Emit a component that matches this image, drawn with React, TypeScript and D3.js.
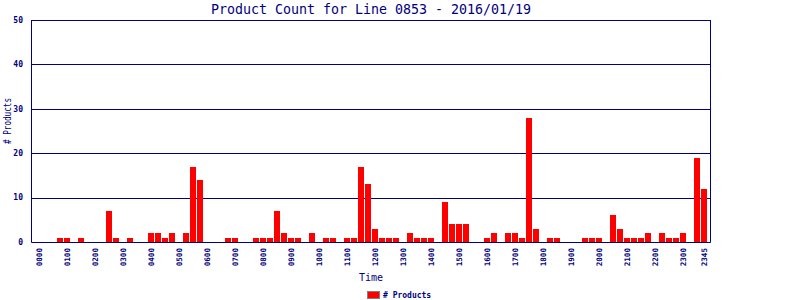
import React from "react";
import * as d3 from "d3";

const title = "Product Count for Line 0853 - 2016/01/19";
const yTicks = [0, 10, 20, 30, 40, 50];
const hourLabels = [
  "0000","0100","0200","0300","0400","0500","0600","0700","0800","0900","1000","1100",
  "1200","1300","1400","1500","1600","1700","1800","1900","2000","2100","2200","2300",
];
const lastLabel = "2345";
const slots = d3.range(96).map((i) => {
  const h = Math.floor(i / 4);
  const m = (i % 4) * 15;
  return `${String(h).padStart(2, "0")}${String(m).padStart(2, "0")}`;
});
const counts = [
  0, 0, 0, 1, 1, 0, 1, 0, 0, 0, 7, 1, 0, 1, 0, 0, 2, 2, 1, 2, 0, 2, 17, 14,
  0, 0, 0, 1, 1, 0, 0, 1, 1, 1, 7, 2, 1, 1, 0, 2, 0, 1, 1, 0, 1, 1, 17, 13,
  3, 1, 1, 1, 0, 2, 1, 1, 1, 0, 9, 4, 4, 4, 0, 0, 1, 2, 0, 2, 2, 1, 28, 3,
  0, 1, 1, 0, 0, 0, 1, 1, 1, 0, 6, 3, 1, 1, 1, 2, 0, 2, 1, 1, 2, 0, 19, 12,
];
const seriesName = "# Products";

const NAVY = "#000080";
const MONO = "'DejaVu Sans Mono', 'Liberation Mono', monospace";

export default function App() {
  const W = 800, H = 300;
  const left = 31.5, right = 710.5, top = 20, bottom = 242;
  const x = d3.scaleBand<string>().domain(slots).range([36, 708]).padding(0);
  const y = d3.scaleLinear().domain([0, 50]).range([bottom, top]);
  const bw = x.bandwidth() - 1;
  const xLabels = [...hourLabels, lastLabel];
  const labelSlot = (lab: string) => (lab === lastLabel ? slots[95] : lab);

  return (
    <svg width={W} height={H} style={{ position: "absolute", left: 0, top: 0, background: "#fff" }}>
      <rect x={0} y={0} width={W} height={H} fill="#fff" />
      <text x={(left + right) / 2} y={14} textAnchor="middle" fontFamily={MONO} fontSize={13.3} fill={NAVY}>
        {title}
      </text>
      {/* grid lines */}
      {yTicks.filter((t) => t > 0).map((t) => (
        <line key={t} x1={left} x2={right} y1={Math.round(y(t)) + 0.5} y2={Math.round(y(t)) + 0.5} stroke={NAVY} strokeWidth={1} />
      ))}
      {/* bars */}
      {counts.map((v, i) =>
        v > 0 ? (
          <rect key={i} x={x(slots[i])} y={y(v)} width={bw} height={bottom - y(v)} fill="#ff0000" shapeRendering="crispEdges" />
        ) : null
      )}
      {/* axes frame */}
      <line x1={left} x2={left} y1={top} y2={bottom + 0.5} stroke={NAVY} strokeWidth={1} />
      <line x1={right} x2={right} y1={top} y2={bottom + 0.5} stroke={NAVY} strokeWidth={1} />
      <line x1={left} x2={right} y1={bottom + 0.5} y2={bottom + 0.5} stroke={NAVY} strokeWidth={1} />
      {/* y tick labels */}
      {yTicks.map((t) => (
        <text key={t} x={23} y={y(t)} dy="0.35em" textAnchor="end" fontFamily={MONO} fontSize={8} fontWeight="bold" fill={NAVY}>
          {t}
        </text>
      ))}
      {/* x tick labels */}
      {xLabels.map((lab) => {
        const cx = (x(labelSlot(lab)) as number) + bw / 2;
        return (
          <text key={lab} transform={`translate(${cx},${248}) rotate(-90)`} dy="0.35em" textAnchor="end" fontFamily={MONO} fontSize={7.6} fontWeight="bold" fill={NAVY}>
            {lab}
          </text>
        );
      })}
      {/* axis titles */}
      <text x={(left + right) / 2} y={281} textAnchor="middle" fontFamily={MONO} fontSize={10} fill={NAVY}>
        Time
      </text>
      <text transform={`translate(11,121) rotate(-90)`} textAnchor="middle" fontFamily={MONO} fontSize={10} textLength={46} lengthAdjust="spacingAndGlyphs" fill={NAVY}>
        {seriesName}
      </text>
      {/* legend */}
      <rect x={367.5} y={291.5} width={12} height={7} fill="#ff0000" stroke="#808080" strokeWidth={1} />
      <text x={383} y={298} fontFamily={MONO} fontSize={8} fontWeight="bold" fill={NAVY}>
        {seriesName}
      </text>
    </svg>
  );
}
